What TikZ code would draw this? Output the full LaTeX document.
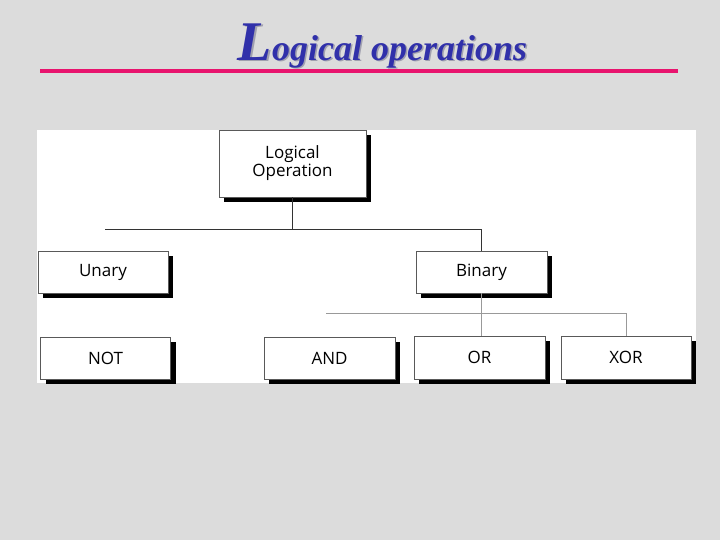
\documentclass[tikz,border=0pt]{standalone}
\usepackage{fontspec}
\setmainfont{Liberation Serif}
\newfontfamily\boxfont{Open Sans}
\usetikzlibrary{shadows}

\definecolor{slidegray}{RGB}{220,220,220}
\definecolor{titleblue}{RGB}{48,48,170}
\definecolor{titleshade}{RGB}{160,160,175}
\definecolor{rulepink}{RGB}{232,20,110}

\begin{document}
\begin{tikzpicture}[
    x=1pt, y=-1pt,
    % Styles
    opbox/.style={
        draw=gray!70!black, line width=0.6pt,
        fill=white, minimum width=#1, minimum height=42pt,
        inner sep=0pt, align=center,
        font=\boxfont\fontsize{17}{18}\selectfont,
        drop shadow={shadow xshift=5pt, shadow yshift=-5pt,
                     fill=black, opacity=1},
    },
    opbox/.default={130pt},
    link/.style={draw=#1, line width=0.8pt},
    link/.default={black!80},
    headline/.style={
        anchor=base, inner sep=0pt, text=#1,
        font=\fontsize{36}{36}\selectfont\bfseries\itshape,
    },
    headline/.default={titleblue},
]

% ================================================================
% SLIDE: BACKGROUND + TITLE
% ================================================================
\fill[slidegray] (0,0) rectangle (720,540);
\node[headline=titleshade] (titleshadow) at (384,62)
    {{\fontsize{56}{56}\selectfont L}ogical operations};
\node[headline] (title) at (382.5,60.5)
    {{\fontsize{56}{56}\selectfont L}ogical operations};
\coordinate (ruleleft) at (40,71);
\coordinate (ruleright) at (678,71);
\draw[rulepink, line width=4.5pt] (ruleleft) -- (ruleright);

% white panel
\fill[white] (37,130) rectangle (696,383);

% ================================================================
% ROW 1: ROOT
% ================================================================
\node[opbox=147pt, minimum height=67pt] (logop) at (292.5,163.5)
    {Logical\\Operation};

% ================================================================
% ROW 2: UNARY / BINARY
% ================================================================
\node[opbox] (unary) at (103,272) {Unary};
\node[opbox=131pt] (binary) at (481.5,272) {Binary};

% ================================================================
% ROW 3: OPERATORS
% ================================================================
\node[opbox] (notop) at (105.5,358) {NOT};
\node[opbox=131pt] (andop) at (329.5,358) {AND};
\node[opbox=131pt, minimum height=43pt] (orop) at (479.5,357.5) {OR};
\node[opbox, minimum height=43pt] (xorop) at (626,357.5) {XOR};

% ================================================================
% LINES
% ================================================================
\coordinate (rowa) at (105,229);
\coordinate (rowb) at (326,313);

% Logical Operation -> Binary
\draw[link] (logop.south) |- (rowa);
\draw[link] (rowa) -| (binary.north);

% Binary -> OR, XOR
\draw[link=gray!80] (binary.south) -- (binary.south |- orop.north);
\draw[link=gray!80] (rowb) -| (xorop.north);

\end{tikzpicture}
\end{document}
